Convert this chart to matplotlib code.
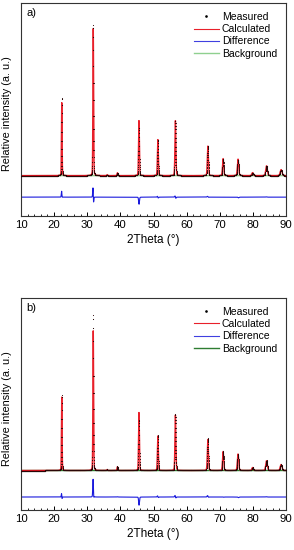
"""XRD Rietveld refinement plots (two samples)"""
import numpy as np
import matplotlib.pyplot as plt
from matplotlib.lines import Line2D
from matplotlib.ticker import MultipleLocator

plt.rcParams['font.family'] = ['Liberation Sans', 'DejaVu Sans']

# peak positions (2theta, deg) and widths (FWHM, deg)
peak_pos = [22.3, 31.8, 36.0, 39.1, 45.6, 51.3, 56.6, 66.4, 71.0, 75.5, 79.9, 84.1, 88.5]
peak_fwhm = [0.22, 0.24, 0.26, 0.27, 0.29, 0.31, 0.33, 0.38, 0.41, 0.46, 0.52, 0.56, 0.62]

# sample a: measured / calculated peak heights, calc peak shift
meas_a = [7800, 15100, 100, 300, 4800, 3600, 5500, 3000, 1700, 1600, 300, 1000, 600]
calc_a = [7300, 14750, 100, 290, 5500, 3600, 5500, 2950, 1700, 1650, 300, 980, 600]
shift_a = [0.004, 0.008, 0.0, 0.0, 0.003, 0.005, 0.005, 0.004, 0.0, 0.007, 0.0, 0.004, 0.0]
bg_a = 250
diff_off_a = -1900

# sample b
meas_b = [7500, 15500, 100, 400, 5000, 3500, 5600, 3200, 1900, 1600, 300, 1000, 600]
calc_b = [7350, 14000, 100, 380, 5800, 3450, 5550, 3100, 1900, 1650, 300, 980, 600]
shift_b = [0.005, 0.007, 0.0, 0.0, 0.004, 0.005, 0.005, 0.006, 0.003, 0.006, 0.0, 0.004, 0.0]
bg_b = 250
diff_off_b = -2400

two_theta = np.arange(10, 90.001, 0.02)


def profile(x, heights, shifts=None):
    """pseudo-Voigt sum of the listed peaks"""
    y = np.zeros_like(x)
    for i, (p, w, h) in enumerate(zip(peak_pos, peak_fwhm, heights)):
        if shifts is not None:
            p = p + shifts[i]
        g = np.exp(-4 * np.log(2) * ((x - p) / w) ** 2)
        lo = 1 / (1 + 4 * ((x - p) / w) ** 2)
        y += h * (0.8 * g + 0.2 * lo)
    return y


def draw_panel(ax, meas_h, calc_h, shifts, bg, diff_off, label, bg_color, ylim):
    y_obs = profile(two_theta, meas_h) + bg
    y_calc = profile(two_theta, calc_h, shifts) + bg
    diff = y_obs - y_calc + diff_off

    ax.plot(two_theta, np.full_like(two_theta, bg), color=bg_color, lw=1.0, zorder=1)
    ax.plot(two_theta, y_calc, color='#e8202a', lw=1.0, zorder=2)
    ax.scatter(two_theta, y_obs, s=0.6, color='#2a0606', linewidths=0, zorder=3)
    ax.plot(two_theta, diff, color='#1a1adc', lw=0.8, zorder=2)

    ax.set_xlim(10, 90)
    ax.set_ylim(*ylim)
    ax.xaxis.set_major_locator(MultipleLocator(10))
    ax.xaxis.set_minor_locator(MultipleLocator(2))
    ax.tick_params(axis='x', which='major', direction='in', length=3, width=0.7,
                   labelsize=8.2, pad=3, top=False)
    ax.tick_params(axis='x', which='minor', direction='in', length=1.5, width=0.6, top=False)
    ax.set_yticks([])
    for s in ax.spines.values():
        s.set_linewidth(0.8)
        s.set_color('#333333')
    ax.set_xlabel('2Theta (°)', fontsize=8.5, labelpad=3)
    ax.set_ylabel('Relative intensity (a. u.)', fontsize=7.8, labelpad=4)
    ax.yaxis.set_label_coords(-0.035, 0.48)
    ax.text(0.02, 0.975, label, transform=ax.transAxes, fontsize=8, va='top', ha='left')

    handles = [
        Line2D([], [], ls='none', marker='.', ms=1.8, color='black'),
        Line2D([], [], color='#e8202a', lw=0.8),
        Line2D([], [], color='#4040e0', lw=0.8),
        Line2D([], [], color=bg_color, lw=1.0),
    ]
    ax.legend(handles, ['Measured', 'Calculated', 'Difference', 'Background'],
              loc='upper right', frameon=False, fontsize=7.5, handlelength=2.4,
              handletextpad=0.3, labelspacing=0.22, borderaxespad=0.45)


fig = plt.figure(figsize=(2.94, 5.50), dpi=100)
ax_a = fig.add_axes([0.0714, 0.607, 0.9016, 0.3875])
ax_b = fig.add_axes([0.0714, 0.0727, 0.9016, 0.3855])

draw_panel(ax_a, meas_a, calc_a, shift_a, bg_a, diff_off_a, 'a)', '#8fd08f', (-3800, 17500))
draw_panel(ax_b, meas_b, calc_b, shift_b, bg_b, diff_off_b, 'b)', '#2e7d32', (-3700, 17500))

fig.savefig('out.png', dpi=100)
plt.close(fig)
